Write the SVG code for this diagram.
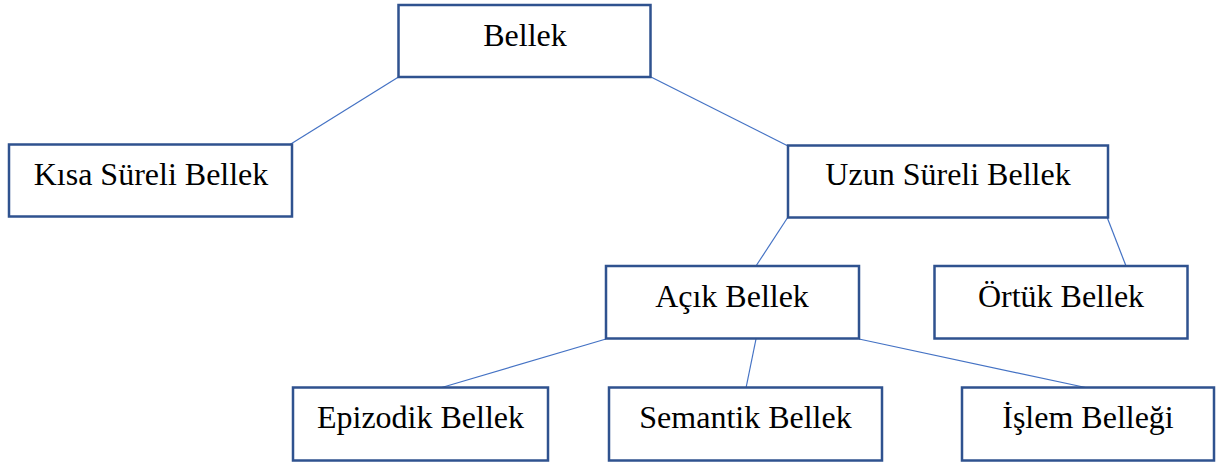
<svg xmlns="http://www.w3.org/2000/svg" width="1229" height="465" viewBox="0 0 1229 465">
<style>
.box{fill:#fff;stroke:#2F528F;stroke-width:2.5}
.lbl{font-family:"Liberation Serif","Times New Roman",serif;font-size:32px;fill:#000;text-anchor:middle}
.conn line{stroke:#4472C4;stroke-width:1.2}
</style>
<rect width="1229" height="465" fill="#fff"/>
<g id="connectors" class="conn">
<line x1="398.5" y1="77" x2="290" y2="144.5"/>
<line x1="651" y1="77" x2="788" y2="146"/>
<line x1="788" y1="217" x2="756" y2="266"/>
<line x1="1107" y1="217" x2="1126" y2="266"/>
<line x1="606" y1="339" x2="440" y2="388"/>
<line x1="756" y1="339" x2="746" y2="388"/>
<line x1="859" y1="339" x2="1088" y2="388"/>
</g>
<g id="bellek"><rect class="box" x="398.5" y="5" width="252" height="72"/><text class="lbl" x="525" y="46">Bellek</text></g>
<g id="kisa"><rect class="box" x="9" y="144.5" width="283" height="72"/><text class="lbl" x="151" y="185">Kısa Süreli Bellek</text></g>
<g id="uzun"><rect class="box" x="788" y="145.5" width="320" height="72"/><text class="lbl" x="948" y="185">Uzun Süreli Bellek</text></g>
<g id="acik"><rect class="box" x="606" y="266" width="253" height="72.5"/><text class="lbl" x="732" y="307">Açık Bellek</text></g>
<g id="ortuk"><rect class="box" x="934.5" y="266" width="253" height="72.5"/><text class="lbl" x="1061" y="307">Örtük Bellek</text></g>
<g id="epizodik"><rect class="box" x="293" y="387.5" width="255" height="73"/><text class="lbl" x="420.5" y="428">Epizodik Bellek</text></g>
<g id="semantik"><rect class="box" x="609" y="387.5" width="273" height="73"/><text class="lbl" x="745.5" y="428">Semantik Bellek</text></g>
<g id="islem"><rect class="box" x="962" y="387.5" width="252" height="73"/><text class="lbl" x="1088" y="428">İşlem Belleği</text></g>
</svg>
